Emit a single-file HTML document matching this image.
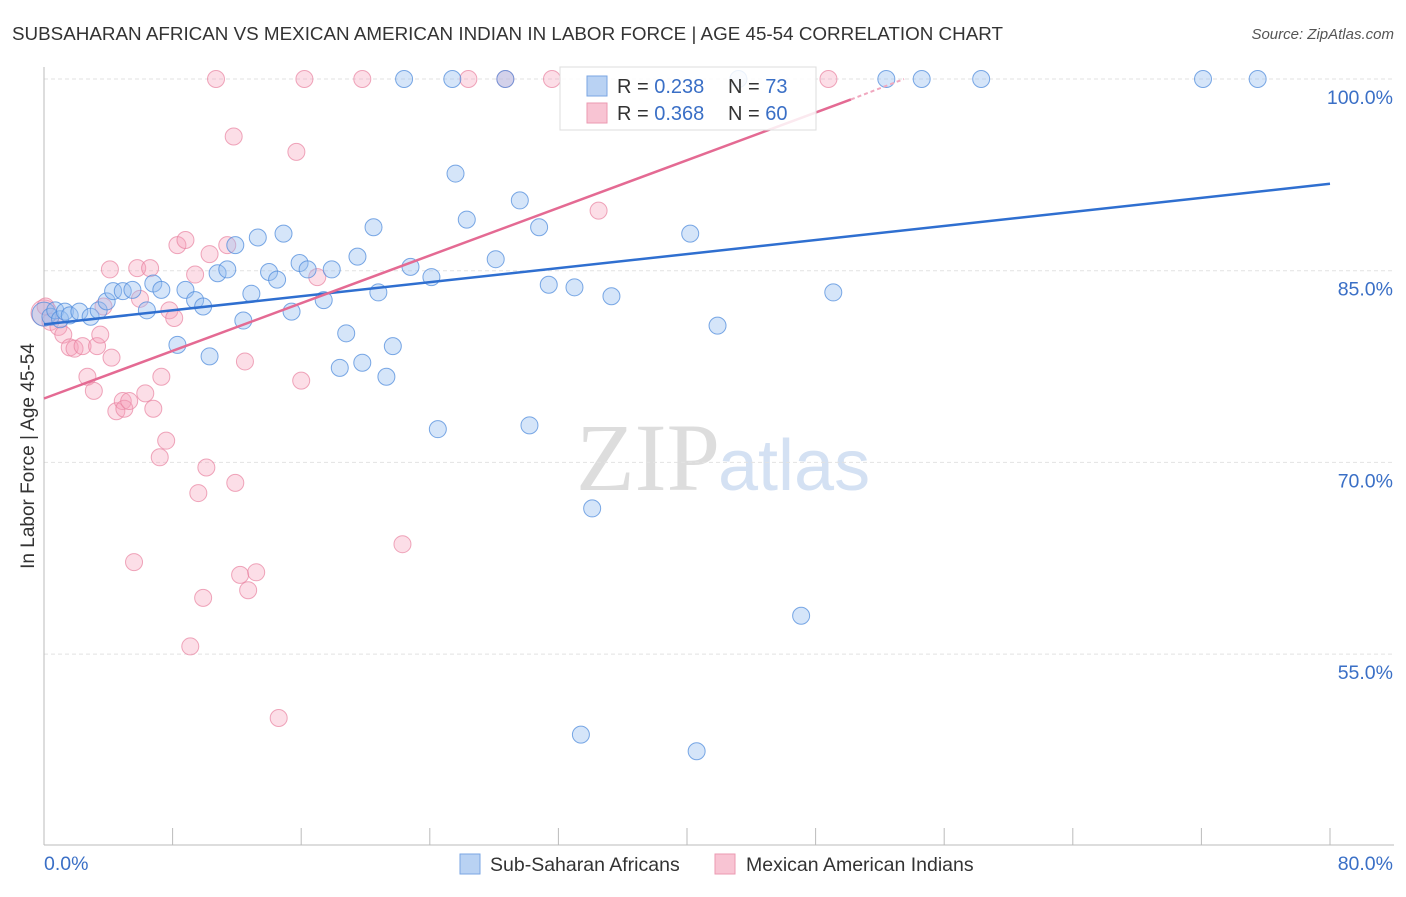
<!DOCTYPE html>
<html><head><meta charset="utf-8"><style>
body{margin:0;background:#fff;width:1406px;height:892px;overflow:hidden;font-family:"Liberation Sans",sans-serif}
</style></head><body>
<svg id="chart" width="1406" height="892" xmlns="http://www.w3.org/2000/svg">
<text x="12" y="40" font-size="18" textLength="991" lengthAdjust="spacingAndGlyphs" fill="#333">SUBSAHARAN AFRICAN VS MEXICAN AMERICAN INDIAN IN LABOR FORCE | AGE 45-54 CORRELATION CHART</text>
<text x="1394" y="39" font-size="15" fill="#555" font-style="italic" text-anchor="end">Source: ZipAtlas.com</text>
<text x="720" y="490" font-size="96" fill="#ddd" font-family="Liberation Serif,serif" text-anchor="end">ZIP</text>
<text x="718" y="490" font-size="72" fill="#d4e1f3">atlas</text>
<g id="grid"></g><g id="axes"></g><g id="pts"></g><g id="lines"></g>
<text x="34" y="456" font-size="19" fill="#333" text-anchor="middle" transform="rotate(-90 34 456)">In Labor Force | Age 45-54</text>
<g>
<rect x="560" y="67" width="256" height="63" fill="#fff" fill-opacity="0.85" stroke="#ddd"/>
<rect x="587" y="76" width="20" height="20" fill="#b9d2f3" stroke="#7aa6e3"/>
<text x="617" y="93" font-size="20" fill="#333">R = <tspan fill="#3a6fc6">0.238</tspan></text>
<text x="728" y="93" font-size="20" fill="#333">N = <tspan fill="#3a6fc6">73</tspan></text>
<rect x="587" y="103" width="20" height="20" fill="#f8c4d3" stroke="#eb9ab2"/>
<text x="617" y="120" font-size="20" fill="#333">R = <tspan fill="#3a6fc6">0.368</tspan></text>
<text x="728" y="120" font-size="20" fill="#333">N = <tspan fill="#3a6fc6">60</tspan></text>
</g>
<g>
<rect x="460" y="854" width="20" height="20" fill="#b9d2f3" stroke="#7aa6e3"/>
<text x="490" y="871" font-size="19.5" fill="#333">Sub-Saharan Africans</text>
<rect x="715" y="854" width="20" height="20" fill="#f8c4d3" stroke="#eb9ab2"/>
<text x="746" y="871" font-size="19.5" fill="#333">Mexican American Indians</text>
</g>
</svg>
<script>
const yTicks=[100,85,70,55];
const xLabels=["0.0%","80.0%"];
const blueX=[0,0.4,0.7,1,1.3,1.6,2.2,2.9,3.4,3.9,4.3,4.9,5.5,6.4,6.8,7.3,8.3,8.8,9.4,9.9,10.3,10.8,11.4,11.9,12.4,12.9,13.3,14,14.5,14.9,15.4,15.9,16.4,17.4,17.9,18.4,18.8,19.5,19.8,20.5,20.8,21.3,21.7,22.8,24.1,24.5,25.6,26.3,28.1,29.6,30.2,30.8,31.4,33,33.4,34.1,35.3,40.2,40.6,41.9,47.1,49.1,22.4,25.4,28.7,43.2,52.4,54.6,58.3,72.1,75.5];
const blueY=[81.6,81.4,81.9,81.2,81.8,81.5,81.8,81.4,81.9,82.6,83.4,83.4,83.5,81.9,84,83.5,79.2,83.5,82.7,82.2,78.3,84.8,85.1,87,81.1,83.2,87.6,84.9,84.3,87.9,81.8,85.6,85.1,82.7,85.1,77.4,80.1,86.1,77.8,88.4,83.3,76.7,79.1,85.3,84.5,72.6,92.6,89.0,85.9,90.5,72.9,88.4,83.9,83.7,48.7,66.4,83.0,87.9,47.4,80.7,58.0,83.3,100,100,100,100,100,100,100,100,100];
const pinkX=[0,0.4,0.9,1.2,1.6,1.9,2.4,2.7,3.1,3.3,3.5,3.7,4.1,4.2,4.5,4.9,5.0,5.3,5.8,5.97,6.3,6.6,6.8,7.2,7.3,7.6,7.8,8.1,8.3,8.8,9.4,9.6,9.9,10.1,10.3,10.7,11.4,11.8,11.9,12.2,12.5,12.7,13.2,14.6,15.7,16.0,16.2,17,19.8,22.3,26.4,28.7,31.6,34.5,48.8,9.1,5.6,0.1];
const pinkY=[81.7,81.0,80.6,80.0,79.0,78.9,79.1,76.7,75.6,79.1,80.0,82.2,85.1,78.2,74.0,74.8,74.2,74.8,85.2,82.8,75.4,85.2,74.2,70.4,76.7,71.7,81.9,81.3,87.0,87.4,84.7,67.6,59.4,69.6,86.3,100,87.0,95.5,68.4,61.2,77.9,60.0,61.4,50.0,94.3,76.4,100,84.5,100,63.6,100,100,100,89.7,100,55.6,62.2,82.2];
const X0=44,X1=1330,YT=79,YS=191.7/15;
const xs=v=>X0+(X1-X0)*v/80, ys=v=>YT+(100-v)*YS;
const NS="http://www.w3.org/2000/svg";
function mk(tag,attrs,parent){const e=document.createElementNS(NS,tag);for(const k in attrs)e.setAttribute(k,attrs[k]);document.getElementById(parent).appendChild(e);return e;}
yTicks.forEach(t=>{
 const l=mk('line',{x1:X0,x2:1394,y1:ys(t),y2:ys(t),stroke:'#e2e2e2','stroke-dasharray':'4,3'},'grid');
 
 
 const tx=mk('text',{x:1393,y:ys(t)+25,'font-size':19.5,fill:'#3a6fc6','text-anchor':'end'},'grid');
 tx.textContent=t.toFixed(1)+'%';
 
 
});
const ax=mk('line',{x1:X0,x2:X0,y1:67,y2:845,stroke:'#bbb'},'axes');


const bx=mk('line',{x1:X0,x2:1394,y1:845,y2:845,stroke:'#bbb'},'axes');


for(let i=1;i<=10;i++){const t=mk('line',{x1:xs(i*8),x2:xs(i*8),y1:828,y2:845,stroke:'#bbb'},'axes');
 
 }
[[0,'start',44],[80,'end',1393]].forEach((d,i)=>{const t=mk('text',{x:d[2],y:870,'font-size':19.5,fill:'#3a6fc6','text-anchor':d[1]},'axes');t.textContent=xLabels[i];
 
 });
pinkX.forEach((v,i)=>{const c=mk('circle',{cx:xs(v),cy:ys(pinkY[i]),r:i==0?13:8.5,fill:'rgba(245,160,185,0.35)',stroke:'rgba(232,130,160,0.7)'},'pts');
 
 });
blueX.forEach((v,i)=>{const c=mk('circle',{cx:xs(v),cy:ys(blueY[i]),r:i==0?12:8.5,fill:'rgba(150,190,240,0.4)',stroke:'rgba(80,140,220,0.75)'},'pts');
 
 });
const bl=mk('line',{x1:xs(0),y1:ys(80.8),x2:xs(80),y2:ys(91.8),stroke:'#2f6fd0','stroke-width':2.5},'lines');


const pl=mk('line',{x1:xs(0),y1:ys(75),x2:xs(50.2),y2:ys(98.4),stroke:'#e46a93','stroke-width':2.5},'lines');


const pd=mk('line',{x1:xs(50.2),y1:ys(98.4),x2:xs(53.5),y2:ys(100),stroke:'#f0a8bf','stroke-width':2,'stroke-dasharray':'4,3'},'lines');


</script>
</body></html>
